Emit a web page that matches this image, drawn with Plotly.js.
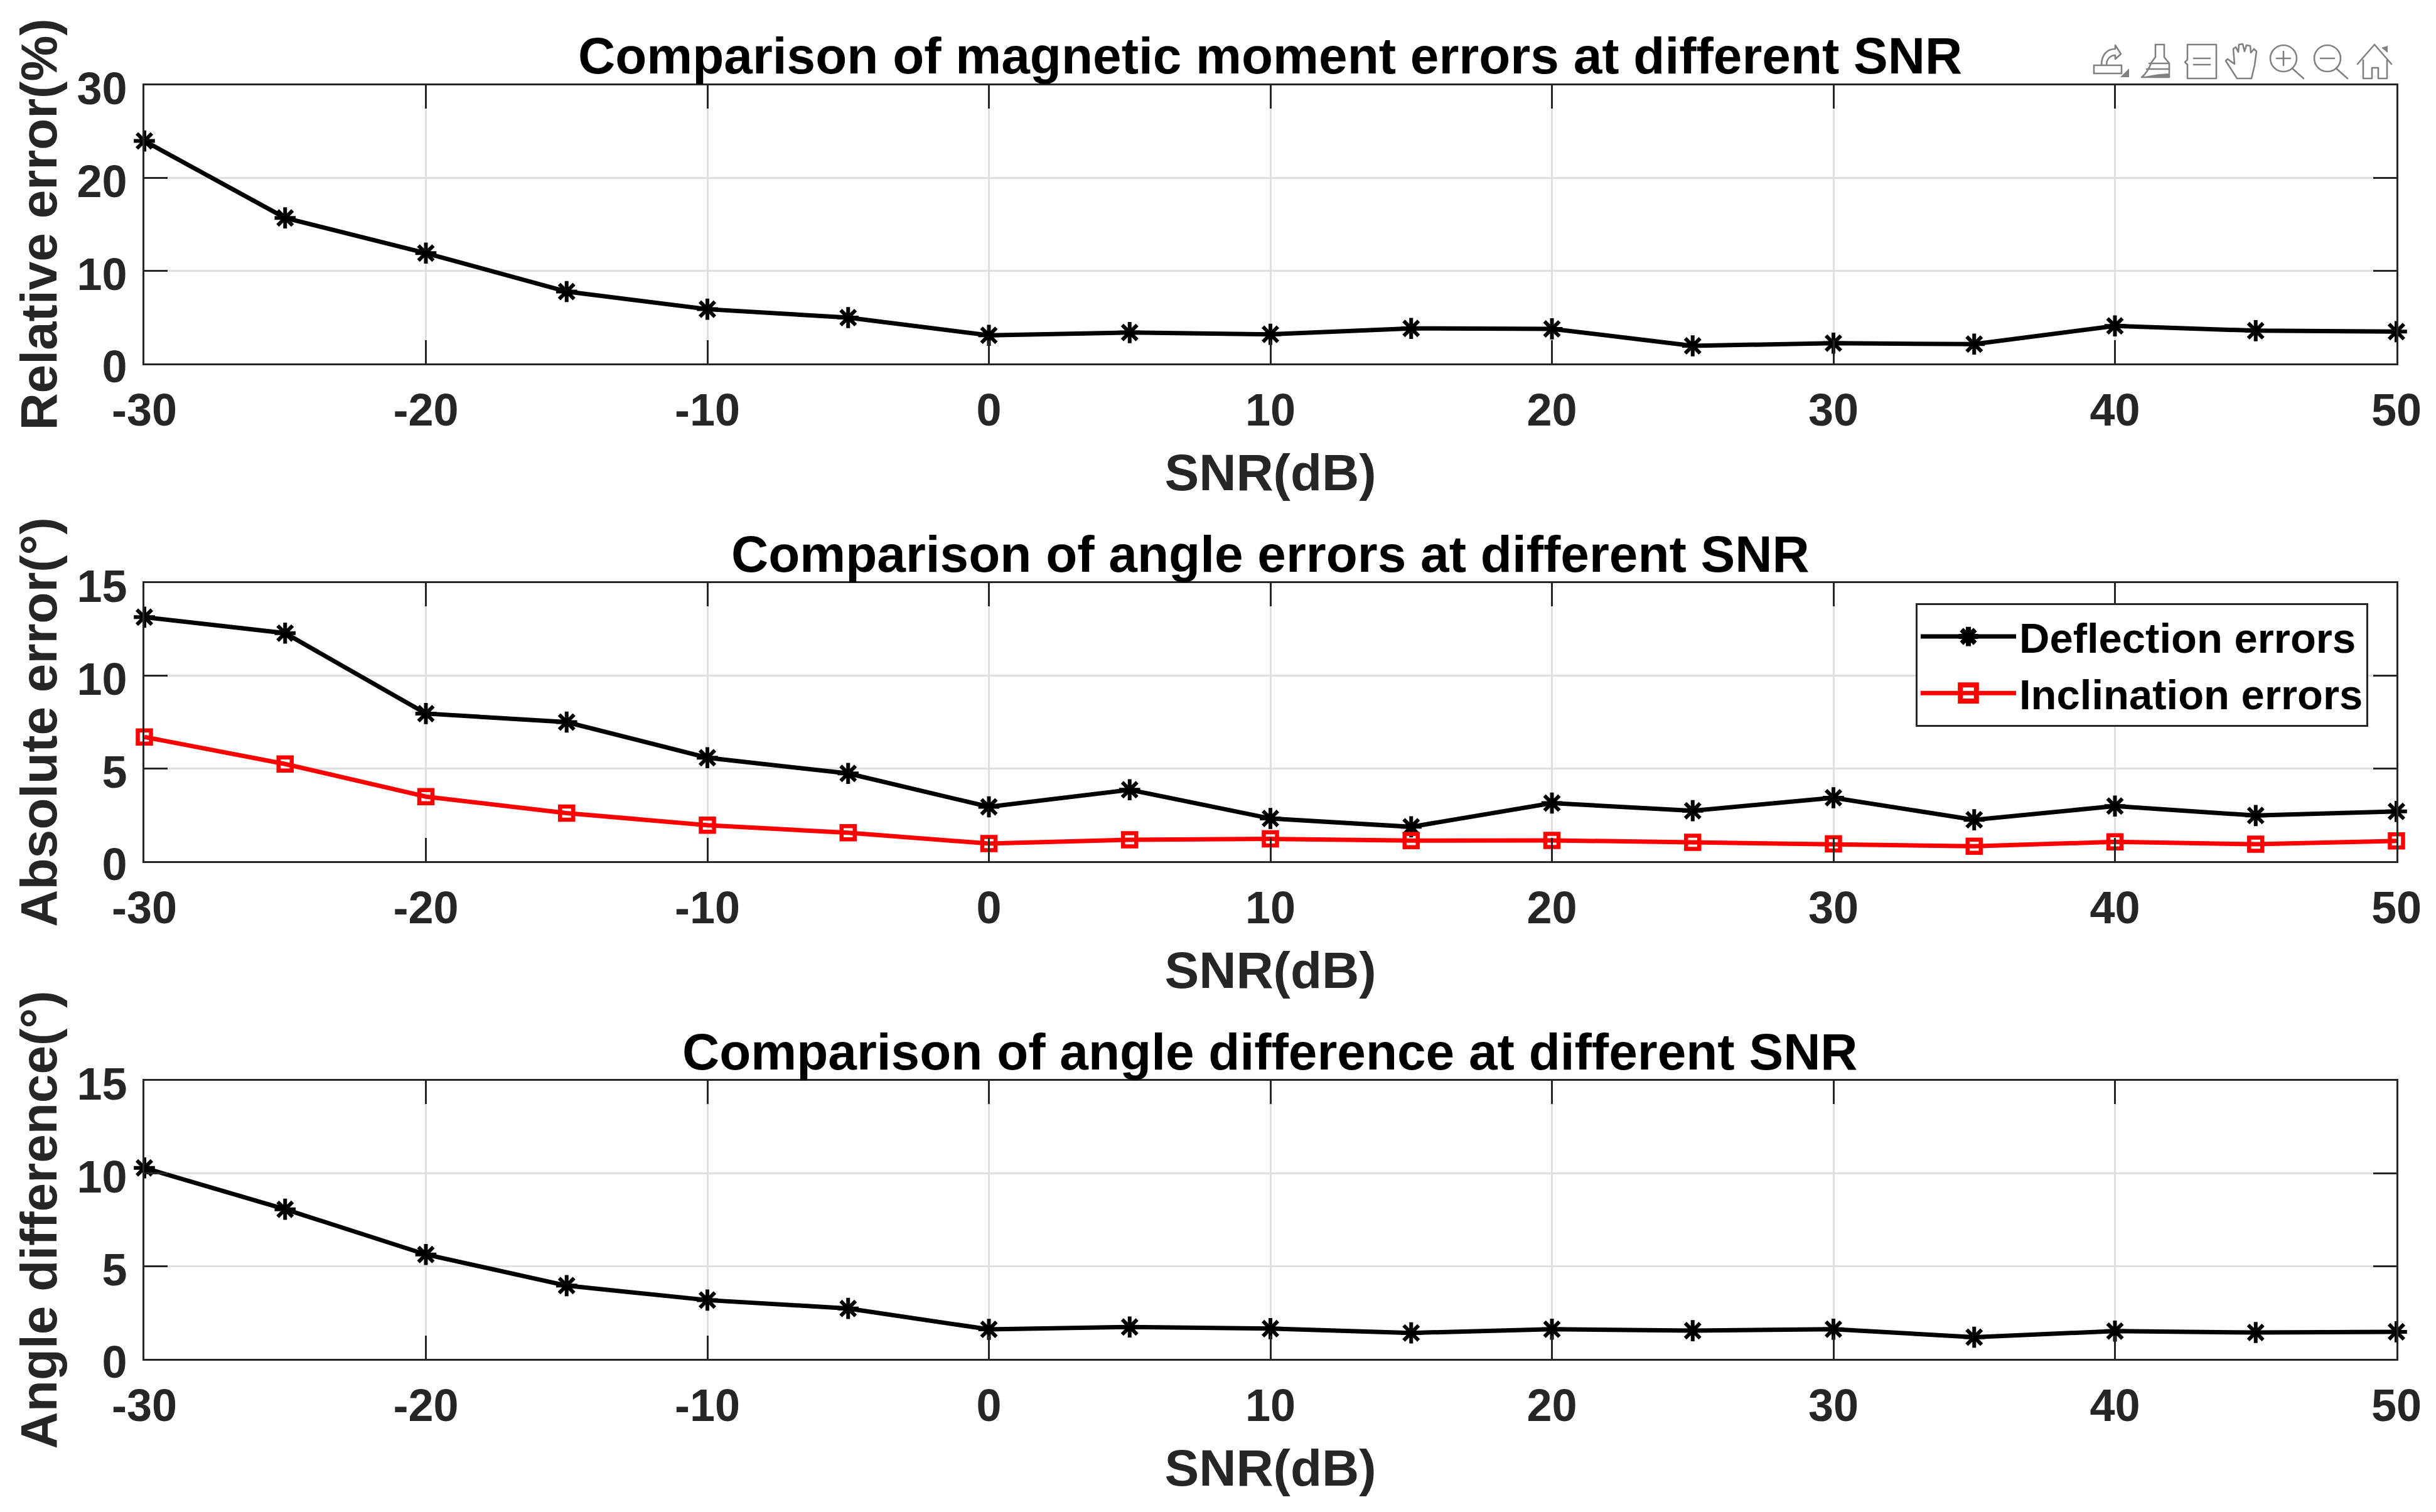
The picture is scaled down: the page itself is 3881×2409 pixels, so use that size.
<!DOCTYPE html>
<html><head><meta charset="utf-8">
<script src="https://cdn.plot.ly/plotly-3.0.1.min.js"></script>
<style>html,body{margin:0;padding:0;background:#fff}</style></head>
<body><div id="chart" style="width:3881px;height:2409px"></div>
<script>
const snr = [-30,-25,-20,-15,-10,-5,0,5,10,15,20,25,30,35,40,45,50];
const momentErrors = [24.0,15.7,11.9,7.75,5.85,4.94,3.03,3.33,3.14,3.78,3.73,1.9,2.18,2.08,4.05,3.53,3.43];
const deflectionErrors = [13.16,12.3,7.96,7.5,5.58,4.73,2.93,3.85,2.3,1.85,3.13,2.72,3.42,2.23,2.97,2.46,2.68];
const inclinationErrors = [6.7,5.24,3.48,2.59,1.94,1.53,0.95,1.15,1.2,1.11,1.12,1.02,0.93,0.8,1.04,0.91,1.09];
const angleDifference = [10.3,8.07,5.63,3.95,3.17,2.72,1.59,1.72,1.63,1.4,1.6,1.52,1.6,1.17,1.5,1.42,1.46];
const xTickValues = [-30,-20,-10,0,10,20,30,40,50];
const xTickLabels = ['-30','-20','-10','0','10','20','30','40','50'];
const titles = ['Comparison of magnetic moment errors at different SNR','Comparison of angle errors at different SNR','Comparison of angle difference at different SNR'];
const yTitles = ['Relative error(%)','Absolute error(°)','Angle difference(°)'];
const xTitle = 'SNR(dB)';
const legendNames = ['Deflection errors','Inclination errors'];

const W=3881,H=2409,L=230,R=3818,tops=[136,929,1722],PH=443;
const fam='"Liberation Sans", Arial, sans-serif';
const dark='#262626';
const bold=(size,color)=>({family:fam,size:size,color:color,weight:700});
const star=(x,y,xa,ya,name,show)=>({x,y,xaxis:xa,yaxis:ya,name,showlegend:show,type:'scatter',mode:'lines+markers',cliponaxis:false,
  line:{color:'#000',width:7},marker:{symbol:'asterisk',size:28,color:'#000',line:{color:'#000',width:6}}});
const traces=[
  star(snr,momentErrors,'x','y','Relative error',false),
  star(snr,deflectionErrors,'x2','y2',legendNames[0],true),
  {x:snr,y:inclinationErrors,xaxis:'x2',yaxis:'y2',name:legendNames[1],type:'scatter',mode:'lines+markers',cliponaxis:false,
   line:{color:'#f00',width:7},marker:{symbol:'square-open',size:21,color:'#f00',line:{color:'#f00',width:6.5}}},
  star(snr,angleDifference,'x3','y3','Angle difference',false)
];
const xa=(i)=>({domain:[L/W,R/W],anchor:i?'y'+(i+1):'y',range:[-30,50],tickmode:'array',tickvals:xTickValues,ticktext:xTickLabels,ticks:'inside',ticklen:37,tickwidth:3,tickcolor:dark,
  showline:true,linecolor:dark,linewidth:3,mirror:'ticks',showgrid:true,gridcolor:'#dfdfdf',gridwidth:3,zeroline:false,
  tickfont:bold(72,dark),ticklabelstandoff:10,title:{text:xTitle,font:bold(82,dark),standoff:32}});
const ya=(i,max,d)=>({domain:[1-(tops[i]+PH)/H,1-tops[i]/H],anchor:i?'x'+(i+1):'x',range:[0,max],dtick:d,ticks:'inside',ticklen:37,tickwidth:3,tickcolor:dark,
  showline:true,linecolor:dark,linewidth:3,mirror:'ticks',showgrid:true,gridcolor:'#dfdfdf',gridwidth:3,zeroline:false,
  tickfont:bold(72,dark),ticklabelstandoff:10,ticklabelshift:5,title:{text:yTitles[i],font:bold(82,dark),standoff:5}});
const icons=`<svg xmlns="http://www.w3.org/2000/svg" width="520" height="100" viewBox="0 0 520 100"><g fill="none" stroke="#808080" stroke-width="2.6" stroke-linejoin="round" stroke-linecap="round">
<path d="M36 64h44v13H36z"/><path d="M48 64c0-18 10-26 22-26v-6l9 14-9 8v-6c-8 0-14 6-14 16"/><path d="M92 83 L78 83 L92 69 Z" fill="#808080" stroke="none"/>
<path d="M134 31h14v20l8 10v22h-44c8-6 12-14 16-24l6-8z"/><path d="M124 61h30M120 70h36"/><path d="M112 83c10-2 30-6 44-6v6z" fill="#808080" stroke="none"/>
<path d="M185 31h46v54h-46v-22l-4-4 4-4z"/><path d="M195 53h26M195 63h26"/>
<path d="M264 85l-18-28 3-3 11 8-2-24 4-3 4 8 1-12 6-1 3 12 3-10 6 1 1 11 5-6 4 4-3 22-5 21z"/>
<circle cx="338" cy="53" r="21"/><path d="M327 53h22M338 42v22M352 69l18 16"/>
<circle cx="408" cy="53" r="21"/><path d="M397 53h22M422 69l18 16"/>
<path d="M456 62l27-31 27 31M465 56v29h14V68h10v17h14V56"/><path d="M494 36l10-3v11z" fill="#808080" stroke="none"/>
</g></svg>`;
const layout={width:W,height:H,margin:{l:0,r:0,t:0,b:0},paper_bgcolor:'#fff',plot_bgcolor:'#fff',font:{family:fam},
  xaxis:xa(0),xaxis2:xa(1),xaxis3:xa(2),yaxis:ya(0,30,10),yaxis2:ya(1,15,5),yaxis3:ya(2,15,5),
  legend:{x:3052/W,y:1-961/H,xanchor:'left',yanchor:'top',bgcolor:'#fff',bordercolor:dark,borderwidth:3,font:bold(67,'#000'),itemwidth:152,entrywidth:563,entrywidthmode:'pixels',tracegroupgap:0},
  annotations:titles.map((t,i)=>({text:t,xref:'paper',yref:'paper',x:(L+R)/2/W,y:1-(tops[i]-47)/H,xanchor:'center',yanchor:'middle',showarrow:false,font:bold(82,'#000')})),
  images:[{source:'data:image/svg+xml;utf8,'+encodeURIComponent(icons),xref:'paper',yref:'paper',x:3300/W,y:1-40/H,sizex:520/W,sizey:100/H,xanchor:'left',yanchor:'top',sizing:'stretch',layer:'above'}],
  showlegend:true,hovermode:false};
Plotly.newPlot('chart',traces,layout,{displayModeBar:false,staticPlot:true}).then(()=>{
  // legend samples are size-capped by the library: bring them up to the reference's size
  document.querySelectorAll('.legend .legendpoints path.scatterpts').forEach(p=>{
    const t=p.getAttribute('transform')||'';
    p.setAttribute('transform',t+' scale(1.6)');
  });
  document.querySelectorAll('.legend .legendlines path').forEach(p=>{p.style.strokeWidth='7px';});
});
</script></body></html>
